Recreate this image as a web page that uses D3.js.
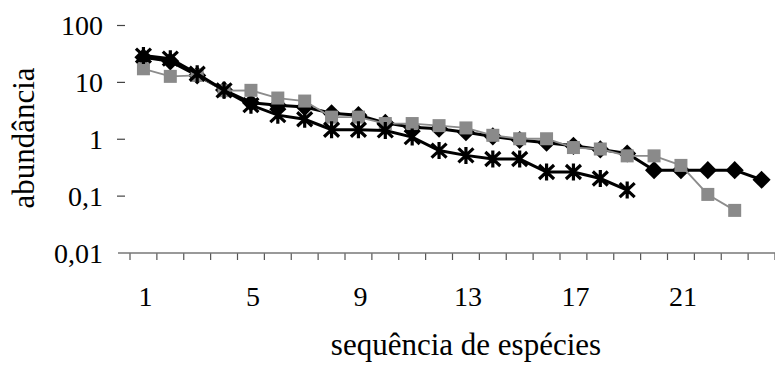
<!DOCTYPE html>
<html>
<head>
<meta charset="utf-8">
<script src="https://cdn.jsdelivr.net/npm/d3@7"></script>
<style>
  body { margin: 0; background: #fff; }
  svg text { font-family: 'Liberation Serif', 'Tinos', 'Times New Roman', 'DejaVu Serif', serif; fill: #000; }
</style>
</head>
<body>
<svg id="chart" width="775" height="365"></svg>
<script>
// data
var categories = d3.range( 1, 25 );
var tickLabels = [ 1, 5, 9, 13, 17, 21 ];
var yTicks = [ 100, 10, 1, 0.1, 0.01 ];

// black diamonds (drawn first, mostly hidden)
var diamonds = [ 27, 23, 13, 7.2, 4.3, 3.9, 3.6, 2.8, 2.6, 1.9, 1.6, 1.5, 1.3, 1.1,
                 0.95, 0.85, 0.75, 0.65, 0.55, 0.28, 0.28, 0.28, 0.28, 0.19 ];
// gray squares
var squares = [ 17, 12.5, 13, 7, 7.1, 5.2, 4.6, 2.4, 2.4, 1.85, 1.85, 1.7, 1.55, 1.15,
                1.0, 1.0, 0.7, 0.66, 0.5, 0.5, 0.34, 0.105, 0.055 ];
// black stars
var stars = [ 29, 25.6, 13.9, 7.1, 3.9, 2.6, 2.2, 1.44, 1.44, 1.4, 1.07, 0.62,
              0.51, 0.44, 0.44, 0.26, 0.26, 0.2, 0.125 ];

var serif = "'Liberation Serif', 'Tinos', 'Times New Roman', 'DejaVu Serif', serif";

var svg = d3.select( '#chart' );

var x = d3.scaleBand()
    .domain( categories )
    .range( [ 130, 775 ] );

var y = d3.scaleLog()
    .domain( [ 0.01, 100 ] )
    .range( [ 252.5, 25 ] );

function cx( i ) {
    return x( categories[ i ] ) + x.bandwidth() / 2;
}

// x axis: line, ticks between categories, labels every 4
var xAxis = svg.append( 'g' )
    .attr( 'transform', 'translate( 0, 253 )' );
xAxis.selectAll( '.tk' )
    .data( d3.range( 0, 25 ) )
  .enter().append( 'line' )
    .attr( 'x1', function( d ) { return 130 + d * x.step(); } )
    .attr( 'x2', function( d ) { return 130 + d * x.step(); } )
    .attr( 'y1', 0 )
    .attr( 'y2', 7 )
    .attr( 'stroke', '#555' )
    .attr( 'stroke-width', 1.2 );
xAxis.append( 'line' )
    .attr( 'x1', 118 )
    .attr( 'x2', 775 )
    .attr( 'stroke', '#777' )
    .attr( 'stroke-width', 1.6 );

svg.append( 'g' ).selectAll( 'text' )
    .data( tickLabels )
  .enter().append( 'text' )
    .attr( 'x', function( d ) { return cx( d - 1 ) + 2; } )
    .attr( 'y', 306 )
    .attr( 'text-anchor', 'middle' )
    .style( 'font-family', serif )
    .style( 'font-size', '28px' )
    .text( function( d ) { return d; } );

// y axis
var yAxis = svg.append( 'g' )
    .attr( 'transform', 'translate( 125, 0 )' )
    .call( d3.axisLeft( y ).tickValues( yTicks ).tickSize( 8 ).tickPadding( 14 )
        .tickFormat( function( d ) { return String( d ).replace( '.', ',' ); } ) );
yAxis.attr( 'font-family', null );
yAxis.select( '.domain' ).remove();
yAxis.selectAll( '.tick line' ).attr( 'stroke', '#444' ).attr( 'stroke-width', 1.2 );
yAxis.selectAll( '.tick text' )
    .style( 'font-size', '28px' )
    .style( 'font-family', serif )
    .attr( 'dy', '0.34em' );
yAxis.selectAll( '.tick' ).filter( function( d ) { return d === 0.01; } )
    .select( 'line' ).remove();

// axis titles
svg.append( 'text' )
    .attr( 'transform', 'translate( 34, 138 ) rotate( -90 )' )
    .attr( 'text-anchor', 'middle' )
    .style( 'font-family', serif )
    .style( 'font-size', '31px' )
    .text( 'abundância' );

svg.append( 'text' )
    .attr( 'x', 466 )
    .attr( 'y', 355 )
    .attr( 'text-anchor', 'middle' )
    .style( 'font-family', serif )
    .style( 'font-size', '31px' )
    .text( 'sequência de espécies' );

var line = d3.line()
    .x( function( d, i ) { return cx( i ); } )
    .y( function( d ) { return y( d ); } );

// diamonds
svg.append( 'path' )
    .datum( diamonds )
    .attr( 'd', line )
    .attr( 'fill', 'none' )
    .attr( 'stroke', '#000' )
    .attr( 'stroke-width', 3 );
svg.append( 'g' ).selectAll( 'path' )
    .data( diamonds )
  .enter().append( 'path' )
    .attr( 'd', d3.symbol( d3.symbolDiamond2, 210 ) )
    .attr( 'transform', function( d, i ) { return 'translate(' + cx( i ) + ',' + y( d ) + ')'; } )
    .attr( 'fill', '#000' );

// squares
svg.append( 'path' )
    .datum( squares )
    .attr( 'd', line )
    .attr( 'fill', 'none' )
    .attr( 'stroke', '#8c8c8c' )
    .attr( 'stroke-width', 1.8 );
svg.append( 'g' ).selectAll( 'rect' )
    .data( squares )
  .enter().append( 'rect' )
    .attr( 'x', function( d, i ) { return cx( i ) - 6.5; } )
    .attr( 'y', function( d ) { return y( d ) - 6.5; } )
    .attr( 'width', 13 )
    .attr( 'height', 13 )
    .attr( 'fill', '#8a8a8a' );

// stars
svg.append( 'path' )
    .datum( stars )
    .attr( 'd', line )
    .attr( 'fill', 'none' )
    .attr( 'stroke', '#000' )
    .attr( 'stroke-width', 3 );
var star = 'M-7.5,-7L7.5,7M-7.5,7L7.5,-7M0,-8.5L0,8.5';
svg.append( 'g' ).selectAll( 'path' )
    .data( stars )
  .enter().append( 'path' )
    .attr( 'd', star )
    .attr( 'transform', function( d, i ) { return 'translate(' + cx( i ) + ',' + y( d ) + ')'; } )
    .attr( 'stroke', '#000' )
    .attr( 'stroke-width', 3.2 )
    .attr( 'fill', 'none' );
</script>
</body>
</html>
